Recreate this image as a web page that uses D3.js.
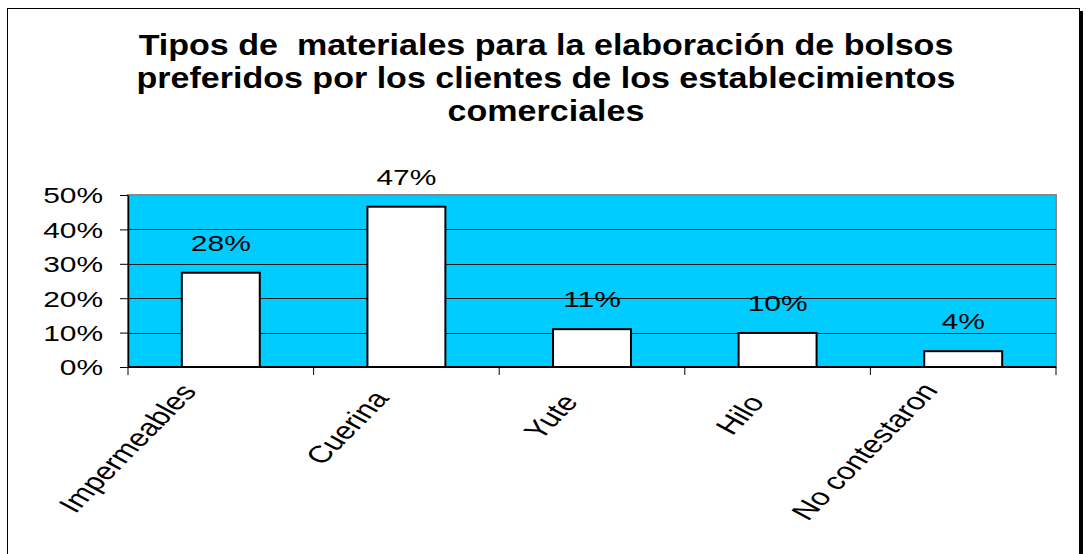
<!DOCTYPE html>
<html>
<head>
<meta charset="utf-8">
<script src="https://cdn.jsdelivr.net/npm/d3@7"></script>
<style>
  body { margin: 0; background: #fff; }
  text { font-family: "Liberation Sans", Arial, sans-serif; }
</style>
</head>
<body>
<div id="graf"></div>
<script>
// Data
const categories = ["Impermeables", "Cuerina", "Yute", "Hilo", "No contestaron"];
const values = [0.274, 0.466, 0.11, 0.099, 0.046];
const valueLabels = ["28%", "47%", "11%", "10%", "4%"];
const yTicks = [0, 0.1, 0.2, 0.3, 0.4, 0.5];
const titleLines = [
  "Tipos de  materiales para la elaboración de bolsos",
  "preferidos por los clientes de los establecimientos",
  "comerciales"
];

// the source picture is stretched sideways, so text is too
const sx = 1.36;
const fontSize = 22;

const svg = d3.select("#graf")
  .append("svg")
  .attr("width", 1086)
  .attr("height", 554);

const margin = { top: 195, left: 128, right: 30, bottom: 187 };
const width = 1086 - margin.left - margin.right;
const height = 554 - margin.top - margin.bottom;

// outer frame with shadow on the right
svg.append("rect")
  .attr("x", 10).attr("y", 11)
  .attr("width", 1073).attr("height", 560)
  .attr("fill", "#000");
svg.append("rect")
  .attr("x", 7.5).attr("y", 8.5)
  .attr("width", 1072).attr("height", 560)
  .attr("fill", "#fff")
  .attr("stroke", "#000")
  .attr("stroke-width", 1);

// title
const title = svg.append("g")
  .attr("transform", "translate(546,55) scale(1.135,1)");
title.selectAll("text")
  .data(titleLines)
  .join("text")
  .attr("x", 0)
  .attr("y", (d, i) => i * 33)
  .attr("text-anchor", "middle")
  .attr("font-size", 30)
  .attr("font-weight", "bold")
  .style("white-space", "pre")
  .text(d => d);

const chart = svg.append("g")
  .attr("transform", `translate(${margin.left},${margin.top})`);

const x = d3.scaleBand()
  .domain(categories)
  .range([0, width]);

const y = d3.scaleLinear()
  .domain([0, 0.5])
  .range([height, 0]);

// plot background
chart.append("rect")
  .attr("width", width)
  .attr("height", height)
  .attr("fill", "#00CCFF")
  .attr("stroke", "#888")
  .attr("stroke-width", 2);

// gridlines
chart.append("g")
  .selectAll("line")
  .data(yTicks.slice(1, -1))
  .join("line")
  .attr("x1", 0).attr("x2", width)
  .attr("y1", d => Math.round(y(d)) + 0.5)
  .attr("y2", d => Math.round(y(d)) + 0.5)
  .attr("stroke", "#1a1a1a")
  .attr("stroke-width", 1);

// bars
const barW = x.bandwidth() * 0.42;
chart.append("g")
  .selectAll("rect")
  .data(categories)
  .join("rect")
  .attr("x", d => x(d) + x.bandwidth() / 2 - barW / 2)
  .attr("y", (d, i) => y(values[i]))
  .attr("width", barW)
  .attr("height", (d, i) => height - y(values[i]))
  .attr("fill", "#fff")
  .attr("stroke", "#000")
  .attr("stroke-width", 2);

// value labels
chart.append("g")
  .selectAll("text")
  .data(categories)
  .join("text")
  .attr("transform", (d, i) => `translate(${x(d) + x.bandwidth() / 2},${y(values[i]) - 22}) scale(${sx},1)`)
  .attr("text-anchor", "middle")
  .attr("font-size", fontSize)
  .text((d, i) => valueLabels[i]);

// y axis
const yAxis = chart.append("g")
  .call(d3.axisLeft(y).tickValues(yTicks).tickFormat(d3.format(".0%")).tickSize(8).tickSizeOuter(0));
yAxis.select(".domain").attr("stroke", "#000").attr("stroke-width", 1.5);
yAxis.selectAll(".tick line").attr("stroke", "#000");
yAxis.selectAll(".tick text")
  .attr("font-size", fontSize)
  .attr("font-family", "Liberation Sans, Arial, sans-serif")
  .attr("fill", "#000")
  .attr("x", 0)
  .attr("dy", "0.36em")
  .attr("transform", `translate(-25,0) scale(${sx},1)`);

// x axis
const xAxis = chart.append("g")
  .attr("transform", `translate(0,${height})`);
xAxis.append("line")
  .attr("x1", 0).attr("x2", width)
  .attr("stroke", "#000").attr("stroke-width", 2);
xAxis.selectAll("line.tick")
  .data(d3.range(categories.length + 1))
  .join("line")
  .attr("class", "tick")
  .attr("x1", d => d === categories.length ? width : x(categories[d]))
  .attr("x2", d => d === categories.length ? width : x(categories[d]))
  .attr("y1", 0).attr("y2", 8)
  .attr("stroke", "#000");

const catFont = 24;
xAxis.selectAll("text")
  .data(categories)
  .join("text")
  .attr("text-anchor", "end")
  .attr("font-size", catFont)
  .text(d => d)
  .attr("transform", function(d) {
    // longer labels sit a bit higher and further left
    const em = this.getComputedTextLength() / catFont;
    const ex = x(d) + x.bandwidth() / 2 - 8 - 2.4 * em;
    const ey = 40 - 2.4 * em;
    return `translate(${ex},${ey}) scale(${sx},1) rotate(-53.7)`;
  });
</script>
</body>
</html>
